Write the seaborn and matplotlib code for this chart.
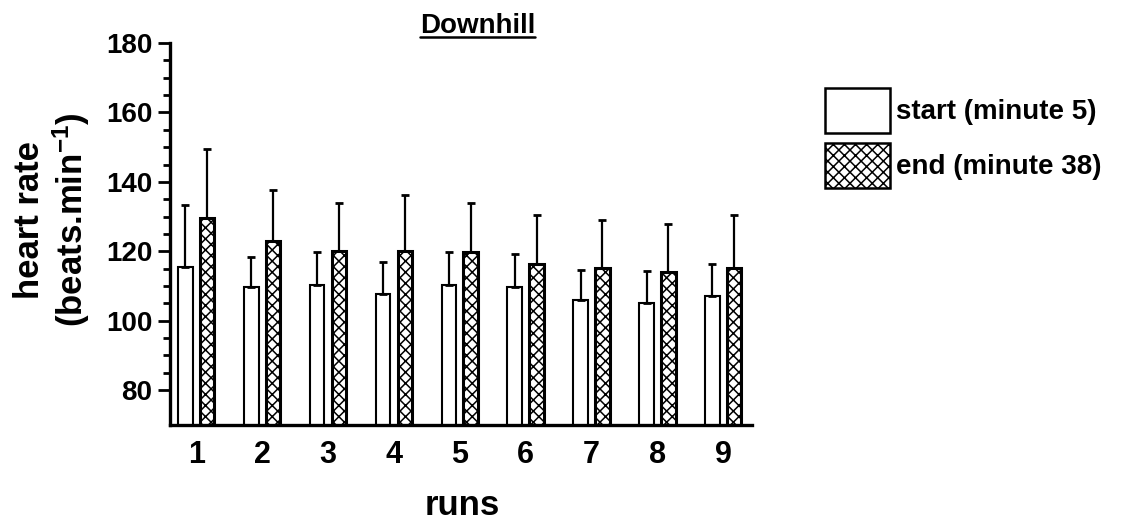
import numpy as np
import pandas as pd
import matplotlib
matplotlib.use("Agg")
import matplotlib.pyplot as plt
import seaborn as sns
from matplotlib.ticker import FixedLocator
from matplotlib.lines import Line2D

# values (mean and upward SD)
runs = ["1", "2", "3", "4", "5", "6", "7", "8", "9"]
start_mean = [115.4, 109.7, 110.4, 107.8, 110.4, 109.8, 105.9, 105.1, 107.2]
start_sd = [18.0, 8.8, 9.5, 9.2, 9.3, 9.3, 8.7, 9.2, 9.1]
end_mean = [129.6, 123.1, 120.2, 120.2, 119.7, 116.4, 115.1, 114.0, 115.1]
end_sd = [19.9, 14.6, 13.8, 16.1, 14.3, 14.2, 14.0, 13.8, 15.3]
phases = ["start (minute 5)", "end (minute 38)"]

df = pd.DataFrame({
    "run": runs * 2,
    "phase": [phases[0]] * len(runs) + [phases[1]] * len(runs),
    "hr": start_mean + end_mean,
    "sd": start_sd + end_sd,
})

sns.set_style("ticks")
plt.rcParams["font.family"] = ["Liberation Sans", "DejaVu Sans"]
plt.rcParams["font.weight"] = "bold"
for k in ["text.color", "axes.labelcolor", "xtick.color", "ytick.color", "axes.edgecolor"]:
    plt.rcParams[k] = "black"
plt.rcParams["mathtext.fontset"] = "custom"
plt.rcParams["mathtext.bf"] = "Liberation Sans:bold"
plt.rcParams["mathtext.rm"] = "Liberation Sans:bold"
plt.rcParams["mathtext.default"] = "bf"
plt.rcParams["hatch.linewidth"] = 1.1
plt.rcParams["hatch.color"] = "black"

fig = plt.figure(figsize=(11.37, 5.22), dpi=100)
ax = fig.add_axes([0.1495, 0.186, 0.5115, 0.7316])

sns.barplot(data=df, x="run", y="hr", hue="phase", hue_order=phases,
            palette=["white", "white"], errorbar=None, width=0.66, gap=0.33,
            edgecolor="black", linewidth=1.5, legend=False, ax=ax)

# upward-only SD bars on top of each bar
for cont, sds in zip(ax.containers, [start_sd, end_sd]):
    xs = [p.get_x() + p.get_width() / 2 for p in cont]
    ys = [p.get_height() for p in cont]
    ax.errorbar(xs, ys, yerr=[np.zeros(len(sds)), sds], fmt="none",
                ecolor="black", elinewidth=1.6, capsize=3, capthick=2, zorder=1)

for p in ax.containers[1]:
    p.set_hatch("xxx")
    p.set_linewidth(2.2)

ax.set_ylim(70, 180)
ax.set_xlim(-0.4, 8.43)
ax.set_yticks([80, 100, 120, 140, 160, 180])
ax.yaxis.set_minor_locator(FixedLocator([v for v in range(85, 180, 5) if v % 20 != 0]))
ax.tick_params(axis="y", which="major", length=9, width=2, pad=3.5, labelsize=20)
ax.tick_params(axis="y", which="minor", length=5, width=2)
ax.tick_params(axis="x", length=0, pad=11, labelsize=22)
for lab in ax.get_xticklabels() + ax.get_yticklabels():
    lab.set_fontweight("bold")

sns.despine(ax=ax)
for s in ["left", "bottom"]:
    ax.spines[s].set_linewidth(2.4)

ax.set_xlabel("runs", fontsize=25, fontweight="bold")
ax.xaxis.set_label_coords(0.502, -0.2356)
ax.xaxis.label.set_verticalalignment("baseline")
ax.set_ylabel("")

fig.text(0.046, 0.579, "heart rate\n(beats.min$^{-1}$)", rotation=90,
         ha="center", va="center", fontsize=25, fontweight="bold",
         linespacing=1.15, multialignment="center")

title = ax.text(0.529, 1.026, "Downhill", transform=ax.transAxes,
                ha="center", va="baseline", fontsize=20, fontweight="bold")
fig.canvas.draw()
bb = title.get_window_extent().transformed(fig.transFigure.inverted())
fig.add_artist(Line2D([bb.x0, bb.x1], [bb.y0 + 0.004, bb.y0 + 0.004],
                      transform=fig.transFigure, color="black", lw=1.8))

handles = [plt.Rectangle((0, 0), 1, 1, facecolor="white", edgecolor="black", lw=1.8),
           plt.Rectangle((0, 0), 1, 1, facecolor="white", edgecolor="black", lw=1.8,
                         hatch="xxx")]
fig.legend(handles, phases, loc="upper left", bbox_to_anchor=(0.7256, 0.8314),
           frameon=False, prop={"weight": "bold", "size": 20},
           handlelength=2.35, handleheight=2.1, labelspacing=0.38,
           handletextpad=0.2, borderpad=0, borderaxespad=0)

fig.savefig("out.png", dpi=100)
